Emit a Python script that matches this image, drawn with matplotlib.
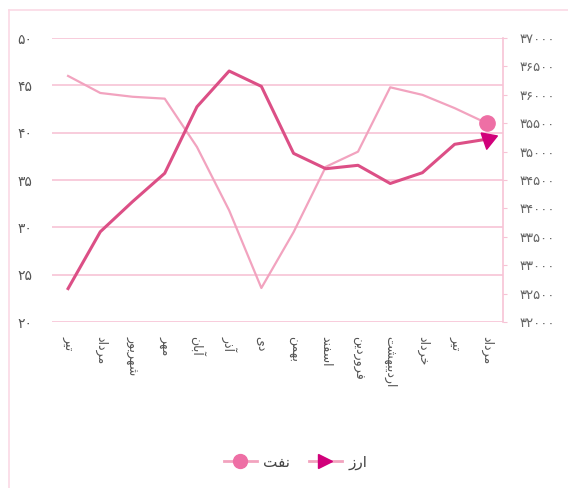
import numpy as np
import matplotlib
matplotlib.use("Agg")
import matplotlib.pyplot as plt
from matplotlib.lines import Line2D

plt.rcParams['font.family'] = ['DejaVu Sans']

months = ["تیر", "مرداد", "شهریور", "مهر", "آبان", "آذر", "دی", "بهمن",
          "اسفند", "فروردین", "اردیبهشت", "خرداد", "تیر", "مرداد"]
oil = [46.0, 44.2, 43.8, 43.6, 38.5, 31.8, 23.6, 29.5, 36.4, 38.0, 44.8, 44.0, 42.6, 41.0]
currency = [32590, 33590, 34120, 34620, 35790, 36420, 36150, 34970, 34700, 34760,
            34440, 34630, 35130, 35220]
left_ticks = [20, 25, 30, 35, 40, 45, 50]
right_ticks = list(range(32000, 37001, 500))
oil_name = "نفت"
cur_name = "ارز"

# letter -> (isolated, final, initial, medial); right-joining letters have 2 forms
FORMS = {
    'ا': (0xFE8D, 0xFE8E), 'آ': (0xFE81, 0xFE82),
    'ب': (0xFE8F, 0xFE90, 0xFE91, 0xFE92), 'ت': (0xFE95, 0xFE96, 0xFE97, 0xFE98),
    'خ': (0xFEA5, 0xFEA6, 0xFEA7, 0xFEA8), 'د': (0xFEA9, 0xFEAA),
    'ذ': (0xFEAB, 0xFEAC), 'ر': (0xFEAD, 0xFEAE), 'ز': (0xFEAF, 0xFEB0),
    'س': (0xFEB1, 0xFEB2, 0xFEB3, 0xFEB4), 'ش': (0xFEB5, 0xFEB6, 0xFEB7, 0xFEB8),
    'ف': (0xFED1, 0xFED2, 0xFED3, 0xFED4), 'م': (0xFEE1, 0xFEE2, 0xFEE3, 0xFEE4),
    'ن': (0xFEE5, 0xFEE6, 0xFEE7, 0xFEE8), 'ه': (0xFEE9, 0xFEEA, 0xFEEB, 0xFEEC),
    'و': (0xFEED, 0xFEEE), 'ی': (0xFEEF, 0xFEF0, 0xFEF3, 0xFEF4),
}


def shape(word):
    # crude persian shaping + reverse to visual order
    out = []
    for i, ch in enumerate(word):
        f = FORMS.get(ch)
        if f is None:
            out.append(ch)
            continue
        prev = FORMS.get(word[i - 1]) if i > 0 else None
        joins_prev = prev is not None and len(prev) == 4
        joins_next = len(f) == 4 and i + 1 < len(word) and word[i + 1] in FORMS
        if joins_prev and joins_next:
            c = f[3]
        elif joins_prev:
            c = f[1]
        elif joins_next:
            c = f[2]
        else:
            c = f[0]
        out.append(chr(c))
    return ''.join(out[::-1])


def fa_num(n):
    return ''.join(chr(0x06F0 + int(d)) for d in str(n))


fig = plt.figure(figsize=(5.68, 4.88), dpi=100)
ax = fig.add_axes([0.0915, 0.34, 0.794, 0.582])
ax2 = ax.twinx()

x = np.arange(len(months))
grid_c = '#f7c3d5'
for v in left_ticks:
    ax.axhline(v, color=grid_c, lw=1.2, zorder=0)

ax.plot(x, oil, color='#f2a3bf', lw=1.6, zorder=2)
ax.plot(x[-1], oil[-1], 'o', color='#ee6fa5', ms=11, zorder=3)
ax2.plot(x, currency, color='#dc4f86', lw=2.2, zorder=2)
# arrowhead pointing down-right, like the reference
tri = [(-25, 22), (30, 12), (-6, -33), (-25, 22)]
ax2.plot(x[-1] + 0.05, currency[-1], marker=tri, color='#d1007a', ms=14, ls='none', zorder=3)

ax.set_xlim(-0.5, len(months) - 0.5)
ax.set_ylim(20, 50)
ax2.set_ylim(32000, 37000)

ax.set_yticks(left_ticks)
ax.set_yticklabels([fa_num(v) for v in left_ticks])
ax2.set_yticks(right_ticks)
ax2.set_yticklabels([fa_num(v) for v in right_ticks])
ax.set_xticks(x)
ax.set_xticklabels([shape(m) for m in months], rotation=-90, va='top', ha='center')

for a in (ax, ax2):
    for s in a.spines.values():
        s.set_visible(False)
ax2.spines['right'].set_visible(True)
ax2.spines['right'].set_color('#f7c3d5')
ax2.spines['right'].set_linewidth(1.2)

ax.tick_params(axis='y', length=0, pad=14, labelsize=10, labelcolor='#555555')
ax.tick_params(axis='x', length=0, pad=10, labelsize=9, labelcolor='#555555')
ax2.tick_params(axis='y', length=3, color='#f7c3d5', pad=9, labelsize=9.5, labelcolor='#666666')

handles = [Line2D([], [], color='#f2a3bf', lw=2, marker='o', ms=10, mfc='#ee6fa5', mec='#ee6fa5'),
           Line2D([], [], color='#f2a3bf', lw=2, marker='>', ms=10, mfc='#d1007a', mec='#d1007a')]
fig.legend(handles, [shape(oil_name), shape(cur_name)], loc='center', ncol=2,
           bbox_to_anchor=(0.52, 0.053), frameon=False, fontsize=11,
           handlelength=2.2, columnspacing=1.2, handletextpad=0.4, labelcolor='#444444')

# faint frame lines
fig.add_artist(Line2D([0.016, 1.0], [0.979, 0.979], color='#fbd9e5', lw=1.2))
fig.add_artist(Line2D([0.016, 0.016], [0.0, 0.979], color='#fbd9e5', lw=1.2))

fig.savefig('out.png', dpi=100, facecolor='white')
